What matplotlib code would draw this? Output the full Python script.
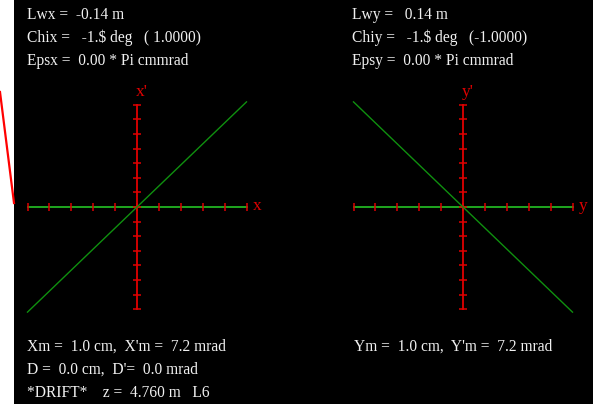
import numpy as np
import matplotlib
matplotlib.use("Agg")
import matplotlib.pyplot as plt
from matplotlib.lines import Line2D
from matplotlib.patches import Rectangle

# Beam envelope parameters at the current element
Xm, Xpm = 1.0, 7.2          # cm, mrad
Ym, Ypm = 1.0, 7.2          # cm, mrad
x_line = [-Xm, Xm]
xp_line = [-Xpm, Xpm]
y_line = [-Ym, Ym]
yp_line = [Ypm, -Ypm]

# Axis graduations: 0.2 cm steps horizontally, 1 mrad steps vertically
pos_ticks = np.round(np.arange(-5, 6) * 0.2, 2)
ang_ticks = np.arange(-7, 8)

W, H = 593, 404
fig = plt.figure(figsize=(W / 100, H / 100), dpi=100, facecolor="black")

SERIF = "Liberation Serif"
TXT = "#f0f0f0"
RED = "#e00000"
GREEN_AXIS = "#22b422"
GREEN_LINE = "#0f900f"

# scale of the phase-space frames (pixels per unit)
PX_CM = 109.5
PX_MRAD = 14.6


def panel(cx, cy, left, right, top, bottom):
    ax = fig.add_axes([left / W, 1 - bottom / H, (right - left) / W, (bottom - top) / H])
    ax.set_xlim((left - cx) / PX_CM, (right - cx) / PX_CM)
    ax.set_ylim((cy - bottom) / PX_MRAD, (cy - top) / PX_MRAD)
    ax.axis("off")
    ax.patch.set_alpha(0)
    return ax


def draw_frame(ax, u, up, name):
    ax.plot([pos_ticks[0], pos_ticks[-1]], [0, 0], color=GREEN_AXIS, lw=1.3, zorder=2)
    ax.plot([0, 0], [ang_ticks[0], ang_ticks[-1]], color=RED, lw=1.3, zorder=2)
    ax.plot(pos_ticks, np.zeros_like(pos_ticks), ls="none", marker="|",
            ms=6, mew=1.1, color=RED, zorder=3)
    ax.plot(np.zeros_like(ang_ticks), ang_ticks, ls="none", marker="_",
            ms=6, mew=1.1, color=RED, zorder=3)
    ax.plot(u, up, color=GREEN_LINE, lw=1.0, zorder=4)
    ax.text(pos_ticks[-1] + 0.06, 0.1, name, color=RED, family=SERIF,
            fontsize=12.5, ha="left", va="center")
    ax.text(0.04, ang_ticks[-1] + 0.3, name + "'", color=RED, family=SERIF,
            fontsize=12.5, ha="center", va="bottom")


axL = panel(137, 207, 14, 300, 80, 330)
draw_frame(axL, x_line, xp_line, "x")
axR = panel(463, 207, 300, 590, 80, 330)
draw_frame(axR, y_line, yp_line, "y")

# white strip and red pointer at the left edge
fig.patches.append(Rectangle((0, 0), 14 / W, 1, transform=fig.transFigure,
                             facecolor="white", edgecolor="none", zorder=0))
fig.lines.append(Line2D([0, 14 / W], [1 - 92 / H, 1 - 203 / H],
                        transform=fig.transFigure, color="red", lw=1.6))


def label(px, py, s):
    fig.text(px / W, 1 - py / H, s, color=TXT, family=SERIF, fontsize=11.2,
             ha="left", va="center")


label(27, 15, "Lwx =  -0.14 m")
label(27, 38, "Chix =   -1.$ deg   ( 1.0000)")
label(27, 61, "Epsx =  0.00 * Pi cmmrad")
label(352, 15, "Lwy =   0.14 m")
label(352, 38, "Chiy =   -1.$ deg   (-1.0000)")
label(352, 61, "Epsy =  0.00 * Pi cmmrad")

label(27, 347, f"Xm =  {Xm:.1f} cm,  X'm =  {Xpm:.1f} mrad")
label(27, 370, "D =  0.0 cm,  D'=  0.0 mrad")
label(27, 393, "*DRIFT*    z =  4.760 m   L6")
label(354, 347, f"Ym =  {Ym:.1f} cm,  Y'm =  {Ypm:.1f} mrad")

fig.savefig("out.png", dpi=100, facecolor="black")
